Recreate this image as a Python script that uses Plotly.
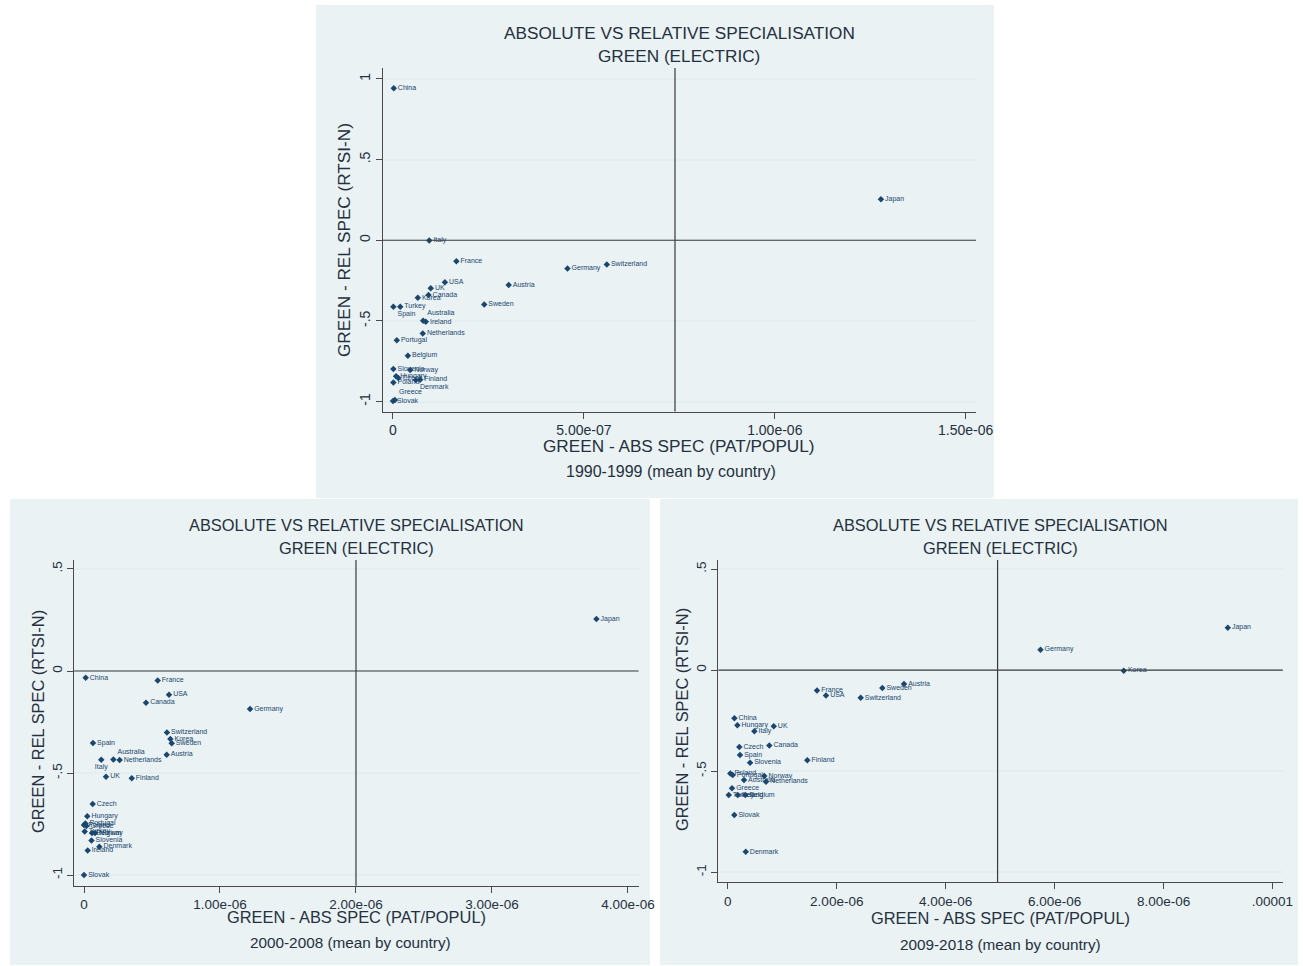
import plotly.graph_objects as go

W, H = 1303, 966
OFF = 0

# ---------------- DATA ----------------
# 1990-1999
countries_90 = ["China", "Italy", "France", "Germany", "Switzerland", "USA", "Austria", "UK",
                "Canada", "Korea", "Sweden", "Turkey", "Spain", "Australia", "Ireland",
                "Netherlands", "Portugal", "Belgium", "Slovenia", "Norway", "Hungary", "Czech",
                "Finland", "Poland", "Denmark", "Greece", "Slovak", "Japan"]
abs_90 = [2e-09, 9.5e-08, 1.66e-07, 4.57e-07, 5.6e-07, 1.36e-07, 3.03e-07, 9.9e-08,
          9.3e-08, 6.5e-08, 2.39e-07, 1.9e-08, 1e-09, 7.9e-08, 8.6e-08,
          7.8e-08, 1e-08, 3.9e-08, 1e-09, 4.5e-08, 8e-09, 1.4e-08,
          7.1e-08, 1e-09, 6e-08, 5e-09, 0.0, 1.278e-06]
rel_90 = [0.942, -0.001, -0.13, -0.175, -0.15, -0.26, -0.277, -0.298,
          -0.34, -0.357, -0.398, -0.412, -0.412, -0.5, -0.506,
          -0.579, -0.62, -0.716, -0.798, -0.804, -0.844, -0.855,
          -0.865, -0.882, -0.866, -0.99, -0.997, 0.254]

# 2000-2008
countries_00 = ["China", "France", "USA", "Canada", "Germany", "Switzerland", "Korea", "Sweden",
                "Spain", "Austria", "Italy", "Australia", "Netherlands", "UK", "Finland", "Czech",
                "Hungary", "Portugal", "Poland", "Greece", "Turkey", "Belgium", "Norway",
                "Slovenia", "Denmark", "Ireland", "Slovak", "Japan"]
abs_00 = [1.25e-08, 5.42e-07, 6.25e-07, 4.56e-07, 1.221e-06, 6.10e-07, 6.35e-07, 6.45e-07,
          6.6e-08, 6.08e-07, 1.27e-07, 2.16e-07, 2.62e-07, 1.62e-07, 3.51e-07, 6.4e-08,
          2.4e-08, 1.0e-08, 0.0, 1.8e-08, 5e-09, 5.9e-08, 8.1e-08,
          5.5e-08, 1.13e-07, 2.7e-08, 0.0, 3.768e-06]
rel_00 = [-0.033, -0.046, -0.116, -0.155, -0.186, -0.301, -0.333, -0.354,
          -0.353, -0.41, -0.435, -0.433, -0.436, -0.518, -0.525, -0.652,
          -0.712, -0.747, -0.755, -0.76, -0.786, -0.794, -0.794,
          -0.83, -0.861, -0.879, -1.0, 0.255]

# 2009-2018
countries_09 = ["France", "USA", "Sweden", "Austria", "Switzerland", "China", "Hungary", "UK",
                "Italy", "Czech", "Canada", "Spain", "Slovenia", "Finland", "Poland", "Portugal",
                "Norway", "Australia", "Netherlands", "Greece", "Turkey", "Ireland", "Belgium",
                "Slovak", "Denmark", "Germany", "Korea", "Japan"]
abs_09 = [1.638e-06, 1.803e-06, 2.837e-06, 3.235e-06, 2.44e-06, 1.2e-07, 1.75e-07, 8.43e-07,
          4.87e-07, 2.11e-07, 7.62e-07, 2.24e-07, 4.08e-07, 1.46e-06, 4.6e-08, 9e-08,
          6.7e-07, 2.97e-07, 7.01e-07, 7.7e-08, 1.7e-08, 1.82e-07, 3.21e-07,
          1.19e-07, 3.29e-07, 5.741e-06, 7.27e-06, 9.18e-06]
rel_09 = [-0.101, -0.125, -0.089, -0.069, -0.137, -0.238, -0.273, -0.278,
          -0.302, -0.38, -0.373, -0.42, -0.458, -0.446, -0.512, -0.519,
          -0.524, -0.544, -0.552, -0.585, -0.618, -0.618, -0.618,
          -0.717, -0.899, 0.101, -0.003, 0.21]

# reference lines (mean of abs spec, zero of rel spec)
ref_x = [7.386e-07, 2.0e-06, 4.953e-06]
ref_y = [0.0, 0.0, 0.0]

periods = ["1990-1999 (mean by country)", "2000-2008 (mean by country)", "2009-2018 (mean by country)"]

xtick_vals_90 = [0, 5e-07, 1e-06, 1.5e-06]
xtick_text_90 = ["0", "5.00e-07", "1.00e-06", "1.50e-06"]
xtick_vals_00 = [0, 1e-06, 2e-06, 3e-06, 4e-06]
xtick_text_00 = ["0", "1.00e-06", "2.00e-06", "3.00e-06", "4.00e-06"]
xtick_vals_09 = [0, 2e-06, 4e-06, 6e-06, 8e-06, 1e-05]
xtick_text_09 = ["0", "2.00e-06", "4.00e-06", "6.00e-06", "8.00e-06", ".00001"]
ytick_vals_90 = [-1, -0.5, 0, 0.5, 1]
ytick_text_90 = ["-1", "-.5", "0", ".5", "1"]
ytick_vals_b = [-1, -0.5, 0, 0.5]
ytick_text_b = ["-1", "-.5", "0", ".5"]

title1 = "ABSOLUTE VS RELATIVE SPECIALISATION"
title2 = "GREEN (ELECTRIC)"
xtitle = "GREEN - ABS SPEC (PAT/POPUL)"
ytitle = "GREEN - REL SPEC (RTSI-N)"

# ---------------- STYLE ----------------
FONT = "Liberation Sans, Arial, sans-serif"
TXT = "#253040"
NAVY = "#1a476f"
PANEL = "#eaf2f3"
GRID = "#e4eef0"
AXC = "#4a4a4a"

special_pos = {
    0: {"Spain": "bottom right", "Australia": "top right", "Greece": "top right",
        "Denmark": "bottom right"},
    1: {"Italy": "bottom center", "Australia": "top right"},
    2: {},
}


def px(x):
    return (x - OFF) / W


def py(y):
    return 1 - (y - OFF) / H


fig = go.Figure()

datasets = [(countries_90, abs_90, rel_90), (countries_00, abs_00, rel_00), (countries_09, abs_09, rel_09)]
for i, (c, xa, ya) in enumerate(datasets):
    pos = [special_pos[i].get(n, "middle right") for n in c]
    fig.add_trace(go.Scatter(
        x=xa, y=ya, text=c, mode="markers+text", textposition=pos,
        marker=dict(symbol="diamond", size=5, color=NAVY),
        textfont=dict(family=FONT, size=7, color=NAVY),
        xaxis="x" if i == 0 else f"x{i+1}", yaxis="y" if i == 0 else f"y{i+1}",
        showlegend=False, hoverinfo="skip", cliponaxis=False))

# panel geometry (page pixels)
panels = [
    dict(bg=(316, 5, 994, 498), plot=(382.6, 68, 976, 411.5), xr=[-2.72e-08, 1.527e-06], yr=[-1.062, 1.068],
         xt=(xtick_vals_90, xtick_text_90), yt=(ytick_vals_90, ytick_text_90),
         tc=679, t1=33, t2=56, xty=446, nx=671, ny=471, yx=344, yy=240, fs=17.2, nfs=16, tfs=14),
    dict(bg=(10, 499, 650, 965), plot=(74, 560, 638.6, 885.7), xr=[-7.35e-08, 4.078e-06], yr=[-1.052, 0.544],
         xt=(xtick_vals_00, xtick_text_00), yt=(ytick_vals_b, ytick_text_b),
         tc=356, t1=525, t2=548, xty=917, nx=350, ny=942, yx=38, yy=722, fs=16.4, nfs=15.3, tfs=13.5),
    dict(bg=(660, 499, 1298, 965), plot=(718.4, 560, 1282.8, 882.3), xr=[-1.73e-07, 1.019e-05], yr=[-1.05, 0.545],
         xt=(xtick_vals_09, xtick_text_09), yt=(ytick_vals_b, ytick_text_b),
         tc=1000, t1=525, t2=548, xty=918, nx=1000, ny=944, yx=682, yy=720, fs=16.4, nfs=15.3, tfs=13.5),
]

shapes = []
annotations = []
layout_axes = {}
for i, p in enumerate(panels):
    x0, y0, x1, y1 = p["bg"]
    shapes.append(dict(type="rect", xref="paper", yref="paper", x0=px(x0), x1=px(x1), y0=py(y1), y1=py(y0),
                       fillcolor=PANEL, line=dict(width=0), layer="below"))
    a0, b0, a1, b1 = p["plot"]
    xn = "xaxis" if i == 0 else f"xaxis{i+1}"
    yn = "yaxis" if i == 0 else f"yaxis{i+1}"
    xref = "x" if i == 0 else f"x{i+1}"
    yref = "y" if i == 0 else f"y{i+1}"
    layout_axes[xn] = dict(domain=[px(a0), px(a1)], range=p["xr"], anchor=yref, automargin=False,
                           tickvals=p["xt"][0], ticktext=p["xt"][1], showgrid=False, zeroline=False,
                           showline=True, linecolor=AXC, linewidth=1, ticks="outside", ticklen=6,
                           tickcolor=AXC, tickfont=dict(family=FONT, size=p["tfs"], color=TXT))
    layout_axes[yn] = dict(domain=[max(0, py(b1)), py(b0)], range=p["yr"], anchor=xref, automargin=False,
                           tickvals=p["yt"][0], ticktext=p["yt"][1], showgrid=True, gridcolor=GRID,
                           gridwidth=2, zeroline=False, showline=True, linecolor=AXC, linewidth=1,
                           ticks="outside", ticklen=6, tickcolor=AXC, tickangle=-90,
                           tickfont=dict(family=FONT, size=p["tfs"], color=TXT))
    # reference lines
    shapes.append(dict(type="line", xref=xref, yref=f"{yref} domain", x0=ref_x[i], x1=ref_x[i], y0=0, y1=1,
                       line=dict(color="#3a3a3a", width=1.2)))
    shapes.append(dict(type="line", xref=f"{xref} domain", yref=yref, x0=0, x1=1, y0=ref_y[i], y1=ref_y[i],
                       line=dict(color="#3a3a3a", width=1.2)))
    # texts
    for txt, xx, yy, sz in [(title1, p["tc"], p["t1"], p["fs"]), (title2, p["tc"], p["t2"], p["fs"]),
                            (xtitle, p["tc"], p["xty"], p["fs"]), (periods[i], p["nx"], p["ny"], p["nfs"])]:
        annotations.append(dict(text=txt, x=px(xx), y=py(yy), xref="paper", yref="paper", showarrow=False,
                                xanchor="center", yanchor="middle", font=dict(family=FONT, size=sz, color=TXT)))
    annotations.append(dict(text=ytitle, x=px(p["yx"]), y=py(p["yy"]), xref="paper", yref="paper",
                            showarrow=False, textangle=-90, xanchor="center", yanchor="middle",
                            font=dict(family=FONT, size=p["fs"], color=TXT)))

fig.update_layout(width=W, height=H, margin=dict(l=0, r=0, t=0, b=0, autoexpand=False),
                  paper_bgcolor="white", plot_bgcolor="white",
                  shapes=shapes, annotations=annotations, **layout_axes)

# remove the default page margin / scrollbars so the figure fills the window exactly
page_fix = ("document.body.style.margin='0px';"
            "document.documentElement.style.overflow='hidden';"
            "document.body.style.overflow='hidden';")

fig.write_html("out.html", post_script=page_fix, config={"displayModeBar": False})
